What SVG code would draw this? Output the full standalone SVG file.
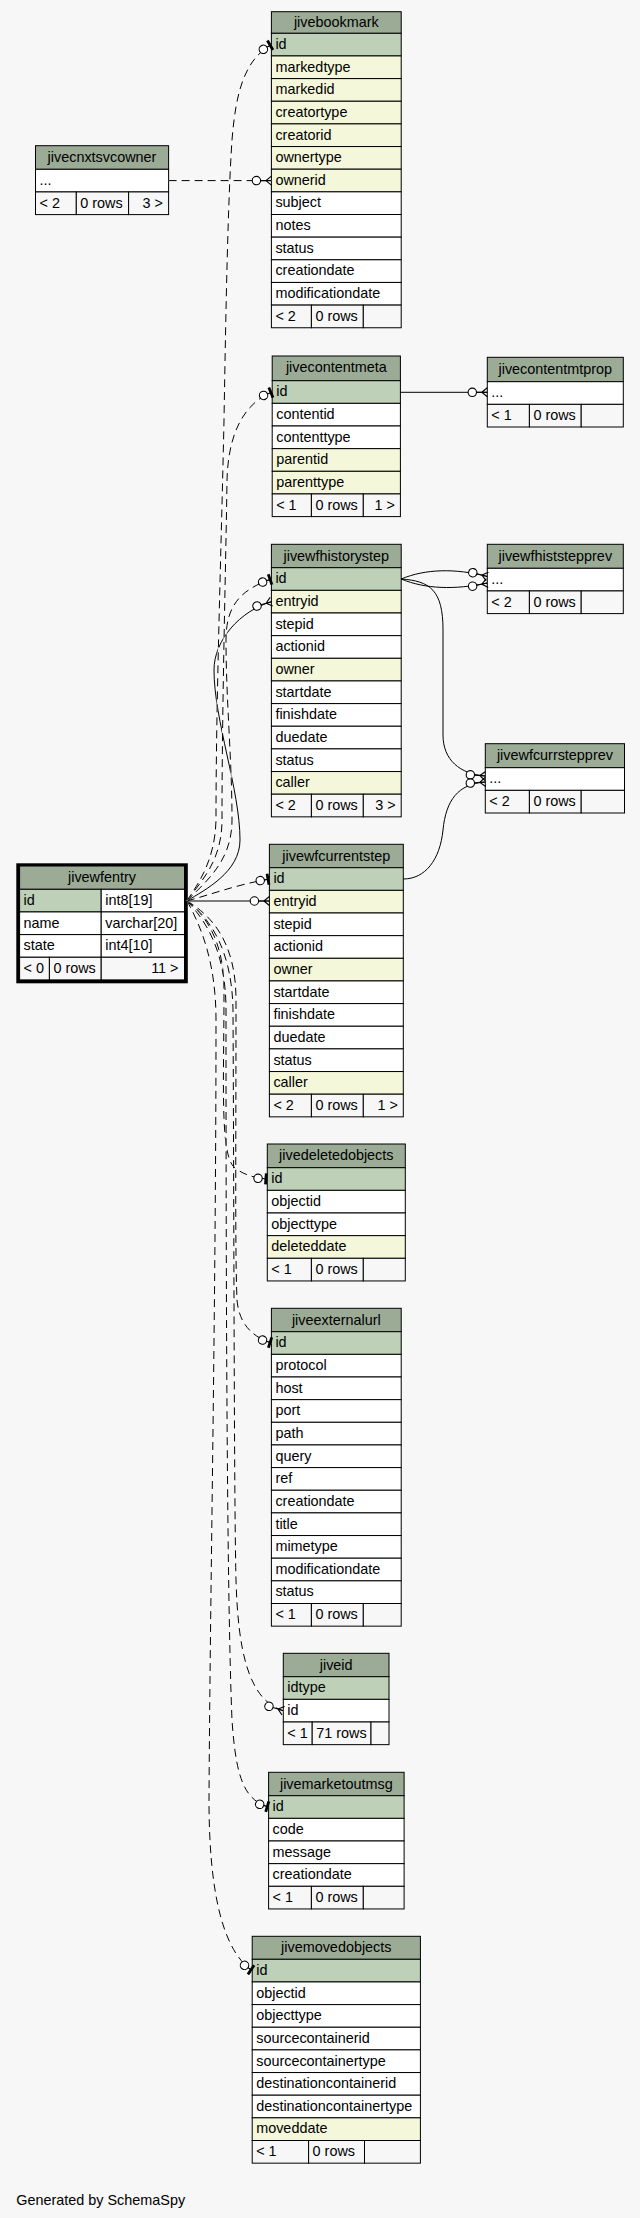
<svg xmlns="http://www.w3.org/2000/svg" width="640" height="2218" viewBox="0 0 640 2218">
<style>
text{font-family:"Liberation Sans",Arial,Helvetica,sans-serif;font-size:14.4px;fill:#000}
.h{text-anchor:middle}
.r{text-anchor:end}
rect{stroke:#000;stroke-width:1}
.bg{fill:#f7f7f7;stroke:none}
.hd{fill:#9bab96}.pk{fill:#bed1b8}.fk{fill:#f4f7da}.c{fill:#ffffff}.ft{fill:#f7f7f7}
.blk{fill:#000;stroke:none}
.e{fill:none;stroke:#000;stroke-width:1}
.w{fill:none;stroke:#fff;stroke-width:1}
.d{stroke-dasharray:8 5}
.tee{marker-end:url(#tee)}
.crow{marker-end:url(#crow)}
</style>
<defs>
<marker id="tee" markerUnits="userSpaceOnUse" viewBox="-16 -8 18 16" refX="0" refY="0" markerWidth="18" markerHeight="16" orient="auto" overflow="visible">
<path d="M-5.2,0H0" fill="none" stroke="#000" stroke-width="1"/>
<path d="M-2.8,-5.5H0V5.5H-2.8Z" fill="#000" stroke="none"/>
<circle cx="-9.3" cy="0" r="4.2" fill="#fff" stroke="#000" stroke-width="1.1"/>
</marker>
<marker id="crow" markerUnits="userSpaceOnUse" viewBox="-22 -8 24 16" refX="0" refY="0" markerWidth="24" markerHeight="16" orient="auto" overflow="visible">
<path d="M-10.8,0H0M-5.5,0L0,-4.5M-5.5,0L0,4.5" fill="none" stroke="#000" stroke-width="1.1"/>
<circle cx="-15" cy="0" r="4.2" fill="#fff" stroke="#000" stroke-width="1.1"/>
</marker>
</defs>
<rect class="bg" x="0" y="0" width="640" height="2218"/>

<g id="jivebookmark">
<rect class="hd" x="271.4" y="11.7" width="129.8" height="21.6"/>
<text class="h" x="336.3" y="27.3">jivebookmark</text>
<rect class="pk" x="271.4" y="33.3" width="129.8" height="22.65"/><text x="275.4" y="48.9">id</text>
<rect class="fk" x="271.4" y="55.95" width="129.8" height="22.65"/><text x="275.4" y="71.55">markedtype</text>
<rect class="fk" x="271.4" y="78.6" width="129.8" height="22.65"/><text x="275.4" y="94.2">markedid</text>
<rect class="fk" x="271.4" y="101.25" width="129.8" height="22.65"/><text x="275.4" y="116.85">creatortype</text>
<rect class="fk" x="271.4" y="123.9" width="129.8" height="22.65"/><text x="275.4" y="139.5">creatorid</text>
<rect class="fk" x="271.4" y="146.55" width="129.8" height="22.65"/><text x="275.4" y="162.15">ownertype</text>
<rect class="fk" x="271.4" y="169.2" width="129.8" height="22.65"/><text x="275.4" y="184.8">ownerid</text>
<rect class="c" x="271.4" y="191.85" width="129.8" height="22.65"/><text x="275.4" y="207.45">subject</text>
<rect class="c" x="271.4" y="214.5" width="129.8" height="22.65"/><text x="275.4" y="230.1">notes</text>
<rect class="c" x="271.4" y="237.15" width="129.8" height="22.65"/><text x="275.4" y="252.75">status</text>
<rect class="c" x="271.4" y="259.8" width="129.8" height="22.65"/><text x="275.4" y="275.4">creationdate</text>
<rect class="c" x="271.4" y="282.45" width="129.8" height="22.65"/><text x="275.4" y="298.05">modificationdate</text>
<rect class="ft" x="271.4" y="305.1" width="40" height="22.65"/><text x="275.4" y="320.7">&lt; 2</text>
<rect class="ft" x="311.4" y="305.1" width="51.9" height="22.65"/><text x="315.4" y="320.7">0 rows</text>
<rect class="ft" x="363.3" y="305.1" width="37.9" height="22.65"/>
</g>

<g id="jivecnxtsvcowner">
<rect class="hd" x="35.5" y="145.7" width="133.1" height="23.6"/>
<text class="h" x="102" y="161.7">jivecnxtsvcowner</text>
<rect class="c" x="35.5" y="169.3" width="133.1" height="22.65"/><text x="39.5" y="184.9">...</text>
<rect class="ft" x="35.5" y="191.95" width="40.8" height="22.65"/><text x="39.5" y="207.55">&lt; 2</text>
<rect class="ft" x="76.3" y="191.95" width="52.3" height="22.65"/><text x="80.3" y="207.55">0 rows</text>
<rect class="ft" x="128.6" y="191.95" width="40" height="22.65"/><text class="r" x="163" y="207.55">3 &gt;</text>
</g>

<g id="jivecontentmeta">
<rect class="hd" x="272.2" y="356" width="128.2" height="24.7"/>
<text class="h" x="336.3" y="372.4">jivecontentmeta</text>
<rect class="pk" x="272.2" y="380.7" width="128.2" height="22.65"/><text x="276.2" y="396.3">id</text>
<rect class="c" x="272.2" y="403.35" width="128.2" height="22.65"/><text x="276.2" y="418.95">contentid</text>
<rect class="c" x="272.2" y="426" width="128.2" height="22.65"/><text x="276.2" y="441.6">contenttype</text>
<rect class="fk" x="272.2" y="448.65" width="128.2" height="22.65"/><text x="276.2" y="464.25">parentid</text>
<rect class="fk" x="272.2" y="471.3" width="128.2" height="22.65"/><text x="276.2" y="486.9">parenttype</text>
<rect class="ft" x="272.2" y="493.95" width="39.2" height="22.65"/><text x="276.2" y="509.55">&lt; 1</text>
<rect class="ft" x="311.4" y="493.95" width="51.9" height="22.65"/><text x="315.4" y="509.55">0 rows</text>
<rect class="ft" x="363.3" y="493.95" width="37.1" height="22.65"/><text class="r" x="395" y="509.55">1 &gt;</text>
</g>

<g id="jivecontentmtprop">
<rect class="hd" x="487.3" y="357.3" width="136" height="24.4"/>
<text class="h" x="555.3" y="373.7">jivecontentmtprop</text>
<rect class="c" x="487.3" y="381.7" width="136" height="22.65"/><text x="491.3" y="397.3">...</text>
<rect class="ft" x="487.3" y="404.35" width="42.1" height="22.65"/><text x="491.3" y="419.95">&lt; 1</text>
<rect class="ft" x="529.4" y="404.35" width="51.8" height="22.65"/><text x="533.4" y="419.95">0 rows</text>
<rect class="ft" x="581.2" y="404.35" width="42.1" height="22.65"/>
</g>

<g id="jivewfhistorystep">
<rect class="hd" x="271.4" y="544.3" width="129.8" height="23.4"/>
<text class="h" x="336.3" y="560.5">jivewfhistorystep</text>
<rect class="pk" x="271.4" y="567.7" width="129.8" height="22.65"/><text x="275.4" y="583.3">id</text>
<rect class="fk" x="271.4" y="590.35" width="129.8" height="22.65"/><text x="275.4" y="605.95">entryid</text>
<rect class="c" x="271.4" y="613" width="129.8" height="22.65"/><text x="275.4" y="628.6">stepid</text>
<rect class="c" x="271.4" y="635.65" width="129.8" height="22.65"/><text x="275.4" y="651.25">actionid</text>
<rect class="fk" x="271.4" y="658.3" width="129.8" height="22.65"/><text x="275.4" y="673.9">owner</text>
<rect class="c" x="271.4" y="680.95" width="129.8" height="22.65"/><text x="275.4" y="696.55">startdate</text>
<rect class="c" x="271.4" y="703.6" width="129.8" height="22.65"/><text x="275.4" y="719.2">finishdate</text>
<rect class="c" x="271.4" y="726.25" width="129.8" height="22.65"/><text x="275.4" y="741.85">duedate</text>
<rect class="c" x="271.4" y="748.9" width="129.8" height="22.65"/><text x="275.4" y="764.5">status</text>
<rect class="fk" x="271.4" y="771.55" width="129.8" height="22.65"/><text x="275.4" y="787.15">caller</text>
<rect class="ft" x="271.4" y="794.2" width="40" height="22.65"/><text x="275.4" y="809.8">&lt; 2</text>
<rect class="ft" x="311.4" y="794.2" width="51.9" height="22.65"/><text x="315.4" y="809.8">0 rows</text>
<rect class="ft" x="363.3" y="794.2" width="37.9" height="22.65"/><text class="r" x="395.7" y="809.8">3 &gt;</text>
</g>

<g id="jivewfhiststepprev">
<rect class="hd" x="487.3" y="544.3" width="136" height="24"/>
<text class="h" x="555.3" y="560.6">jivewfhiststepprev</text>
<rect class="c" x="487.3" y="568.3" width="136" height="22.65"/><text x="491.3" y="583.9">...</text>
<rect class="ft" x="487.3" y="590.95" width="42.1" height="22.65"/><text x="491.3" y="606.55">&lt; 2</text>
<rect class="ft" x="529.4" y="590.95" width="51.8" height="22.65"/><text x="533.4" y="606.55">0 rows</text>
<rect class="ft" x="581.2" y="590.95" width="42.1" height="22.65"/>
</g>

<g id="jivewfcurrstepprev">
<rect class="hd" x="485.3" y="743.7" width="139.2" height="24"/>
<text class="h" x="554.9" y="760">jivewfcurrstepprev</text>
<rect class="c" x="485.3" y="767.7" width="139.2" height="22.65"/><text x="489.3" y="783.3">...</text>
<rect class="ft" x="485.3" y="790.35" width="44.1" height="22.65"/><text x="489.3" y="805.95">&lt; 2</text>
<rect class="ft" x="529.4" y="790.35" width="51.8" height="22.65"/><text x="533.4" y="805.95">0 rows</text>
<rect class="ft" x="581.2" y="790.35" width="43.3" height="22.65"/>
</g>

<g id="jivewfentry">
<rect class="blk" x="16.3" y="863.3" width="171.5" height="120"/>
<rect class="hd" x="19.6" y="866" width="164.9" height="23.3"/>
<text class="h" x="102" y="882">jivewfentry</text>
<rect class="pk" x="19.6" y="889.3" width="81.6" height="22.65"/><text x="23.6" y="904.9">id</text>
<rect class="c" x="101.2" y="889.3" width="83.3" height="22.65"/><text x="105.2" y="904.9">int8[19]</text>
<rect class="c" x="19.6" y="911.95" width="81.6" height="22.65"/><text x="23.6" y="927.55">name</text>
<rect class="c" x="101.2" y="911.95" width="83.3" height="22.65"/><text x="105.2" y="927.55">varchar[20]</text>
<rect class="c" x="19.6" y="934.6" width="81.6" height="22.65"/><text x="23.6" y="950.2">state</text>
<rect class="c" x="101.2" y="934.6" width="83.3" height="22.65"/><text x="105.2" y="950.2">int4[10]</text>
<rect class="ft" x="19.6" y="957.25" width="29.8" height="22.65"/><text x="23.6" y="972.85">&lt; 0</text>
<rect class="ft" x="49.4" y="957.25" width="51.8" height="22.65"/><text x="53.4" y="972.85">0 rows</text>
<rect class="ft" x="101.2" y="957.25" width="83.3" height="22.65"/><text class="r" x="178.5" y="972.85">11 &gt;</text>
</g>

<g id="jivewfcurrentstep">
<rect class="hd" x="269.4" y="844.3" width="133.9" height="23.4"/>
<text class="h" x="336.35" y="860.5">jivewfcurrentstep</text>
<rect class="pk" x="269.4" y="867.7" width="133.9" height="22.65"/><text x="273.4" y="883.3">id</text>
<rect class="fk" x="269.4" y="890.35" width="133.9" height="22.65"/><text x="273.4" y="905.95">entryid</text>
<rect class="c" x="269.4" y="913" width="133.9" height="22.65"/><text x="273.4" y="928.6">stepid</text>
<rect class="c" x="269.4" y="935.65" width="133.9" height="22.65"/><text x="273.4" y="951.25">actionid</text>
<rect class="fk" x="269.4" y="958.3" width="133.9" height="22.65"/><text x="273.4" y="973.9">owner</text>
<rect class="c" x="269.4" y="980.95" width="133.9" height="22.65"/><text x="273.4" y="996.55">startdate</text>
<rect class="c" x="269.4" y="1003.6" width="133.9" height="22.65"/><text x="273.4" y="1019.2">finishdate</text>
<rect class="c" x="269.4" y="1026.25" width="133.9" height="22.65"/><text x="273.4" y="1041.85">duedate</text>
<rect class="c" x="269.4" y="1048.9" width="133.9" height="22.65"/><text x="273.4" y="1064.5">status</text>
<rect class="fk" x="269.4" y="1071.55" width="133.9" height="22.65"/><text x="273.4" y="1087.15">caller</text>
<rect class="ft" x="269.4" y="1094.2" width="42" height="22.65"/><text x="273.4" y="1109.8">&lt; 2</text>
<rect class="ft" x="311.4" y="1094.2" width="51.9" height="22.65"/><text x="315.4" y="1109.8">0 rows</text>
<rect class="ft" x="363.3" y="1094.2" width="40" height="22.65"/><text class="r" x="397.8" y="1109.8">1 &gt;</text>
</g>

<g id="jivedeletedobjects">
<rect class="hd" x="267.3" y="1144" width="138" height="23.7"/>
<text class="h" x="336.3" y="1160.3">jivedeletedobjects</text>
<rect class="pk" x="267.3" y="1167.7" width="138" height="22.65"/><text x="271.3" y="1183.3">id</text>
<rect class="c" x="267.3" y="1190.35" width="138" height="22.65"/><text x="271.3" y="1205.95">objectid</text>
<rect class="c" x="267.3" y="1213" width="138" height="22.65"/><text x="271.3" y="1228.6">objecttype</text>
<rect class="fk" x="267.3" y="1235.65" width="138" height="22.65"/><text x="271.3" y="1251.25">deleteddate</text>
<rect class="ft" x="267.3" y="1258.3" width="44.1" height="22.65"/><text x="271.3" y="1273.9">&lt; 1</text>
<rect class="ft" x="311.4" y="1258.3" width="51.9" height="22.65"/><text x="315.4" y="1273.9">0 rows</text>
<rect class="ft" x="363.3" y="1258.3" width="42" height="22.65"/>
</g>

<g id="jiveexternalurl">
<rect class="hd" x="271.4" y="1308.3" width="129.8" height="23.4"/>
<text class="h" x="336.3" y="1324.5">jiveexternalurl</text>
<rect class="pk" x="271.4" y="1331.7" width="129.8" height="22.65"/><text x="275.4" y="1347.3">id</text>
<rect class="c" x="271.4" y="1354.35" width="129.8" height="22.65"/><text x="275.4" y="1369.95">protocol</text>
<rect class="c" x="271.4" y="1377" width="129.8" height="22.65"/><text x="275.4" y="1392.6">host</text>
<rect class="c" x="271.4" y="1399.65" width="129.8" height="22.65"/><text x="275.4" y="1415.25">port</text>
<rect class="c" x="271.4" y="1422.3" width="129.8" height="22.65"/><text x="275.4" y="1437.9">path</text>
<rect class="c" x="271.4" y="1444.95" width="129.8" height="22.65"/><text x="275.4" y="1460.55">query</text>
<rect class="c" x="271.4" y="1467.6" width="129.8" height="22.65"/><text x="275.4" y="1483.2">ref</text>
<rect class="c" x="271.4" y="1490.25" width="129.8" height="22.65"/><text x="275.4" y="1505.85">creationdate</text>
<rect class="c" x="271.4" y="1512.9" width="129.8" height="22.65"/><text x="275.4" y="1528.5">title</text>
<rect class="c" x="271.4" y="1535.55" width="129.8" height="22.65"/><text x="275.4" y="1551.15">mimetype</text>
<rect class="c" x="271.4" y="1558.2" width="129.8" height="22.65"/><text x="275.4" y="1573.8">modificationdate</text>
<rect class="c" x="271.4" y="1580.85" width="129.8" height="22.65"/><text x="275.4" y="1596.45">status</text>
<rect class="ft" x="271.4" y="1603.5" width="40" height="22.65"/><text x="275.4" y="1619.1">&lt; 1</text>
<rect class="ft" x="311.4" y="1603.5" width="51.9" height="22.65"/><text x="315.4" y="1619.1">0 rows</text>
<rect class="ft" x="363.3" y="1603.5" width="37.9" height="22.65"/>
</g>

<g id="jiveid">
<rect class="hd" x="283.3" y="1653.3" width="105.7" height="23.4"/>
<text class="h" x="336.15" y="1669.5">jiveid</text>
<rect class="pk" x="283.3" y="1676.7" width="105.7" height="22.65"/><text x="287.3" y="1692.3">idtype</text>
<rect class="c" x="283.3" y="1699.35" width="105.7" height="22.65"/><text x="287.3" y="1714.95">id</text>
<rect class="ft" x="283.3" y="1722" width="28.9" height="22.65"/><text x="287.3" y="1737.6">&lt; 1</text>
<rect class="ft" x="312.2" y="1722" width="58.8" height="22.65"/><text x="316.2" y="1737.6">71 rows</text>
<rect class="ft" x="371" y="1722" width="18" height="22.65"/>
</g>

<g id="jivemarketoutmsg">
<rect class="hd" x="268.6" y="1772.3" width="135.5" height="23.4"/>
<text class="h" x="336.35" y="1788.5">jivemarketoutmsg</text>
<rect class="pk" x="268.6" y="1795.7" width="135.5" height="22.65"/><text x="272.6" y="1811.3">id</text>
<rect class="c" x="268.6" y="1818.35" width="135.5" height="22.65"/><text x="272.6" y="1833.95">code</text>
<rect class="c" x="268.6" y="1841" width="135.5" height="22.65"/><text x="272.6" y="1856.6">message</text>
<rect class="c" x="268.6" y="1863.65" width="135.5" height="22.65"/><text x="272.6" y="1879.25">creationdate</text>
<rect class="ft" x="268.6" y="1886.3" width="42.8" height="22.65"/><text x="272.6" y="1901.9">&lt; 1</text>
<rect class="ft" x="311.4" y="1886.3" width="51.9" height="22.65"/><text x="315.4" y="1901.9">0 rows</text>
<rect class="ft" x="363.3" y="1886.3" width="40.8" height="22.65"/>
</g>

<g id="jivemovedobjects">
<rect class="hd" x="252.2" y="1936.3" width="168.2" height="23"/>
<text class="h" x="336.3" y="1952.2">jivemovedobjects</text>
<rect class="pk" x="252.2" y="1959.3" width="168.2" height="22.65"/><text x="256.2" y="1974.9">id</text>
<rect class="c" x="252.2" y="1981.95" width="168.2" height="22.65"/><text x="256.2" y="1997.55">objectid</text>
<rect class="c" x="252.2" y="2004.6" width="168.2" height="22.65"/><text x="256.2" y="2020.2">objecttype</text>
<rect class="c" x="252.2" y="2027.25" width="168.2" height="22.65"/><text x="256.2" y="2042.85">sourcecontainerid</text>
<rect class="c" x="252.2" y="2049.9" width="168.2" height="22.65"/><text x="256.2" y="2065.5">sourcecontainertype</text>
<rect class="c" x="252.2" y="2072.55" width="168.2" height="22.65"/><text x="256.2" y="2088.15">destinationcontainerid</text>
<rect class="c" x="252.2" y="2095.2" width="168.2" height="22.65"/><text x="256.2" y="2110.8">destinationcontainertype</text>
<rect class="fk" x="252.2" y="2117.85" width="168.2" height="22.65"/><text x="256.2" y="2133.45">moveddate</text>
<rect class="ft" x="252.2" y="2140.5" width="56.4" height="22.65"/><text x="256.2" y="2156.1">&lt; 1</text>
<rect class="ft" x="308.6" y="2140.5" width="55.9" height="22.65"/><text x="312.6" y="2156.1">0 rows</text>
<rect class="ft" x="364.5" y="2140.5" width="55.9" height="22.65"/>
</g>

<g id="connectors">
<path class="w" d="M168.6,180.6 L271.4,180.6"/>
<path class="e d crow" d="M168.6,180.6 L271.4,180.6"/>
<path class="e crow" d="M400.4,392.3 L487.3,392.3"/>
<path class="e crow" d="M401.2,579 C425,569 455,568 487.3,576.5"/>
<path class="e crow" d="M401.2,579 C425,589 455,590 487.3,583"/>
<path class="e crow" d="M401.2,579 C430,581 443,590 443,630 L443,735 C443,760 460,774 485.3,776"/>
<path class="e crow" d="M403.3,879 C425,879 440,860 443,830 C446,800 458,784 485.3,782"/>

<path class="w" d="M187,900.8 C210,895 235,885 269.4,879"/>
<path class="e d tee" d="M187,900.8 C210,895 235,885 269.4,879"/>
<path class="e crow" d="M187,901 L269.4,901"/>
<path class="e crow" d="M187,900.8 C205,890 240,872 240,840 C240,790 214,720 214,670 C214,640 240,611 271.4,601.7"/>
<path class="w" d="M187,900.8 C205,882 232,862 232,820 C232,760 226,700 226,640 C226,606 240,590 271.4,579"/>
<path class="e d tee" d="M187,900.8 C205,882 232,862 232,820 C232,760 226,700 226,640 C226,606 240,590 271.4,579"/>
<path class="w" d="M187,900.8 C200,882 222,862 222,820 C222,700 226,560 227,480 C228,440 240,405 272.2,392"/>
<path class="e d tee" d="M187,900.8 C200,882 222,862 222,820 C222,700 226,560 227,480 C228,440 240,405 272.2,392"/>
<path class="w" d="M187,900.8 C197,885 215,862 216,820 C216,700 221,560 224,420 C226,300 228,200 232,140 C236,90 245,60 271.4,44.6"/>
<path class="e d tee" d="M187,900.8 C197,885 215,862 216,820 C216,700 221,560 224,420 C226,300 228,200 232,140 C236,90 245,60 271.4,44.6"/>
<path class="w" d="M187,900.8 C205,915 224,940 224,990 C224,1080 220,1150 233,1166 C241,1174 254,1178 267.3,1179"/>
<path class="e d tee" d="M187,900.8 C205,915 224,940 224,990 C224,1080 220,1150 233,1166 C241,1174 254,1178 267.3,1179"/>
<path class="w" d="M187,900.8 C210,915 236,940 236,1000 C236,1150 235,1250 237,1300 C239,1322 250,1336 271.4,1343"/>
<path class="e d tee" d="M187,900.8 C210,915 236,940 236,1000 C236,1150 235,1250 237,1300 C239,1322 250,1336 271.4,1343"/>
<path class="w" d="M187,900.8 C210,918 232,950 233,1010 C234,1200 234,1500 236,1580 C238,1650 248,1700 283.3,1710.7"/>
<path class="e d crow" d="M187,900.8 C210,918 232,950 233,1010 C234,1200 234,1500 236,1580 C238,1650 248,1700 283.3,1710.7"/>
<path class="w" d="M187,900.8 C205,920 226,950 226,1010 C226,1300 227,1600 232,1720 C236,1780 245,1800 268.6,1807"/>
<path class="e d tee" d="M187,900.8 C205,920 226,950 226,1010 C226,1300 227,1600 232,1720 C236,1780 245,1800 268.6,1807"/>
<path class="w" d="M187,900.8 C200,925 216,960 216,1020 C216,1300 210,1600 209,1800 C209,1890 222,1950 252.2,1970.6"/>
<path class="e d tee" d="M187,900.8 C200,925 216,960 216,1020 C216,1300 210,1600 209,1800 C209,1890 222,1950 252.2,1970.6"/>
</g>

<text x="16.3" y="2205">Generated by SchemaSpy</text>
</svg>
